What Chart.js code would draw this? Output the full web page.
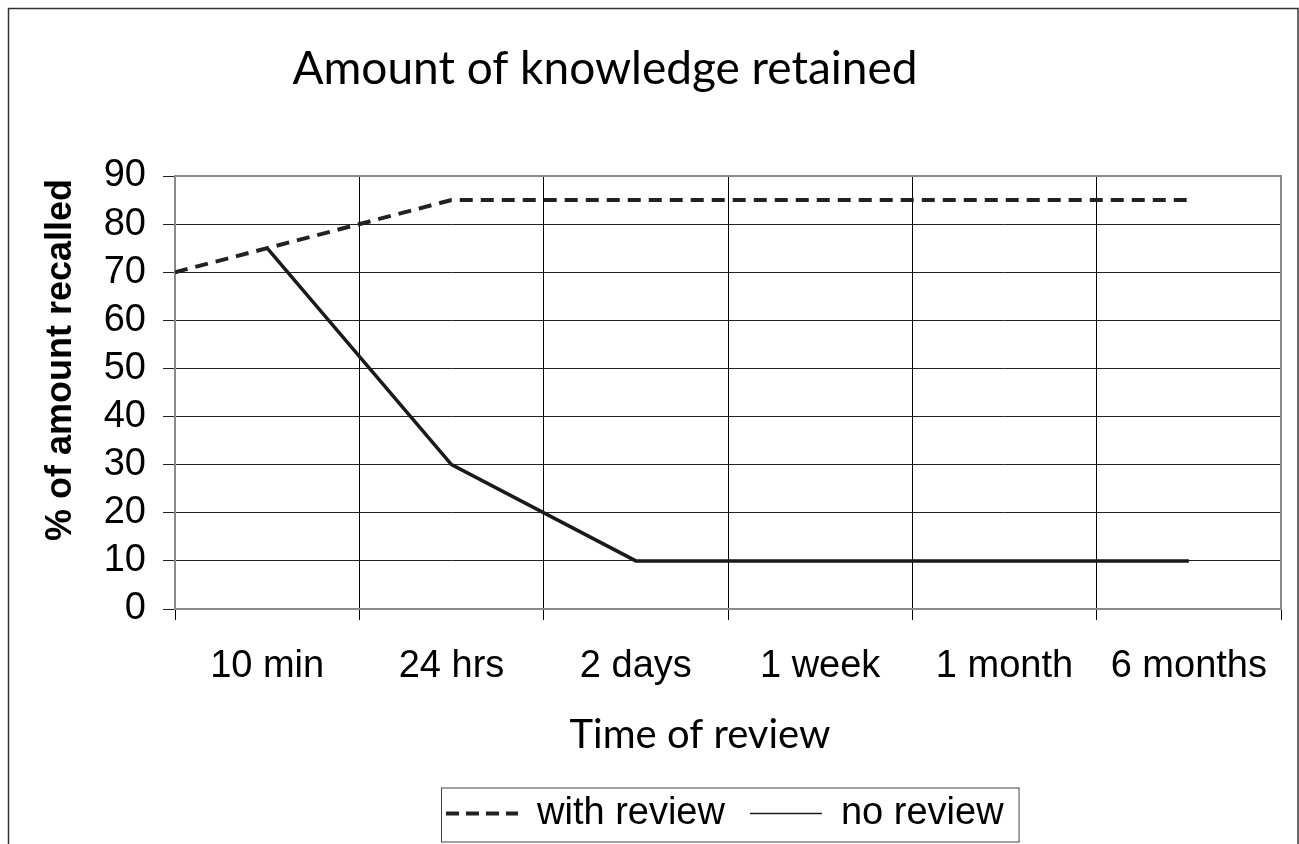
<!DOCTYPE html>
<html>
<head>
<meta charset="utf-8">
<title>Amount of knowledge retained</title>
<script src="https://cdn.jsdelivr.net/npm/chart.js@4.4.1/dist/chart.umd.min.js"></script>
<style>
    html, body { margin: 0; padding: 0; background: #fff; }
    .chartBox { width: 1299px; height: 844px; position: relative; }
</style>
</head>
<body>
<div class="chartBox"><canvas id="myChart"></canvas></div>
<script>
const categories = ['10 min', '24 hrs', '2 days', '1 week', '1 month', '6 months']
const withReviewStart = 70
const withReview = [75, 85, 85, 85, 85, 85]
const noReview = [75, 30, 10, 10, 10, 10]
const yMax = 90
const yStep = 10

const chartTitle = 'Amount of knowledge retained'
const xTitle = 'Time of review'
const yTitle = '% of amount recalled'

const arial = '"Liberation Sans", Arial'

// points sit in the middle of each category, grid lines on the boundaries
const toPoints = values => values.map((v, i) => ({ x: i + 0.5, y: v }))

const frame = {
    id: 'frame',
    afterLayout: chart => {
        // legend row starts under the plot, not centred on the canvas
        chart.legend.left = 421
    },
    beforeDatasetsDraw: chart => {
        const { ctx, chartArea: a } = chart
        ctx.save()
        ctx.strokeStyle = '#8a8a8a'
        ctx.lineWidth = 2
        ctx.strokeRect(a.left, a.top, a.right - a.left, a.bottom - a.top)
        ctx.restore()
    },
    afterDraw: chart => {
        const { ctx } = chart
        ctx.save()
        // outer frame
        ctx.strokeStyle = '#333'
        ctx.lineWidth = 1.5
        ctx.strokeRect(8.5, 8.5, 1289.5, 900)

        // legend box
        const boxes = chart.legend.legendHitBoxes
        if (boxes.length) {
            const first = boxes[0]
            const last = boxes[boxes.length - 1]
            ctx.strokeStyle = '#444'
            ctx.lineWidth = 1
            ctx.strokeRect(first.left - 4.5, first.top - 6.5, last.left + last.width - first.left + 20, 54)
        }

        ctx.fillStyle = '#000'
        ctx.textAlign = 'center'
        ctx.textBaseline = 'alphabetic'
        ctx.font = '46px Lato'
        ctx.fillText(chartTitle, 605, 84)
        ctx.font = '40px Lato'
        ctx.fillText(xTitle, 700, 748)

        ctx.translate(61, 360)
        ctx.rotate(-Math.PI / 2)
        ctx.textBaseline = 'middle'
        ctx.font = 'bold 36px ' + arial
        ctx.fillText(yTitle, 0, 0)
        ctx.restore()
    }
}

const ctx = document.getElementById('myChart').getContext('2d')
const chart = new Chart(ctx, {
    type: 'line',
    data: {
        datasets: [
            {
                label: 'with review',
                data: [{ x: 0, y: withReviewStart }, ...toPoints(withReview)],
                borderColor: '#222',
                backgroundColor: '#222',
                borderWidth: 4,
                borderDash: [13, 8],
                pointRadius: 0,
                tension: 0
            },
            {
                label: 'no review',
                data: toPoints(noReview),
                borderColor: '#1a1a1a',
                backgroundColor: '#1a1a1a',
                borderWidth: 3.5,
                pointRadius: 0,
                tension: 0
            }
        ]
    },
    options: {
        responsive: true,
        maintainAspectRatio: false,
        animation: false,
        layout: {
            padding: { left: 8, right: 18, top: 176, bottom: 1.5 }
        },
        scales: {
            x: {
                type: 'linear',
                min: 0,
                max: categories.length,
                afterBuildTicks: scale => {
                    const ticks = []
                    for (let i = 0; i <= categories.length * 2; i++) ticks.push({ value: i / 2 })
                    scale.ticks = ticks
                },
                afterFit: scale => {
                    scale.height = 160.5
                    scale.paddingLeft = 0
                    scale.paddingRight = 0
                },
                border: { display: false },
                grid: {
                    color: c => Number.isInteger(c.tick.value) ? '#000' : 'rgba(0,0,0,0)',
                    tickColor: c => Number.isInteger(c.tick.value) ? '#000' : 'rgba(0,0,0,0)',
                    lineWidth: 1,
                    tickLength: 11
                },
                ticks: {
                    autoSkip: false,
                    maxRotation: 0,
                    padding: 24,
                    color: '#000',
                    font: { family: arial, size: 38 },
                    callback: value => Number.isInteger(value) ? '' : categories[value - 0.5]
                }
            },
            y: {
                min: 0,
                max: yMax,
                afterFit: scale => { scale.width = 167 },
                border: { display: false },
                grid: {
                    color: '#222',
                    tickColor: '#222',
                    lineWidth: 1,
                    tickLength: 12
                },
                ticks: {
                    stepSize: yStep,
                    autoSkip: false,
                    padding: 17,
                    color: '#000',
                    font: { family: arial, size: 38 }
                }
            }
        },
        plugins: {
            title: { display: false },
            tooltip: { enabled: false },
            legend: {
                position: 'bottom',
                align: 'start',
                labels: {
                    usePointStyle: true,
                    pointStyle: 'line',
                    pointStyleWidth: 72,
                    padding: 25,
                    color: '#000',
                    font: { family: arial, size: 38 },
                    generateLabels: chart => {
                        const items = Chart.defaults.plugins.legend.labels.generateLabels(chart)
                        items[0].lineWidth = 4
                        items[0].lineDash = [13, 7]
                        items[1].lineWidth = 1.5
                        items[1].lineDash = []
                        return items
                    }
                }
            }
        }
    },
    plugins: [frame]
})
</script>
</body>
</html>
